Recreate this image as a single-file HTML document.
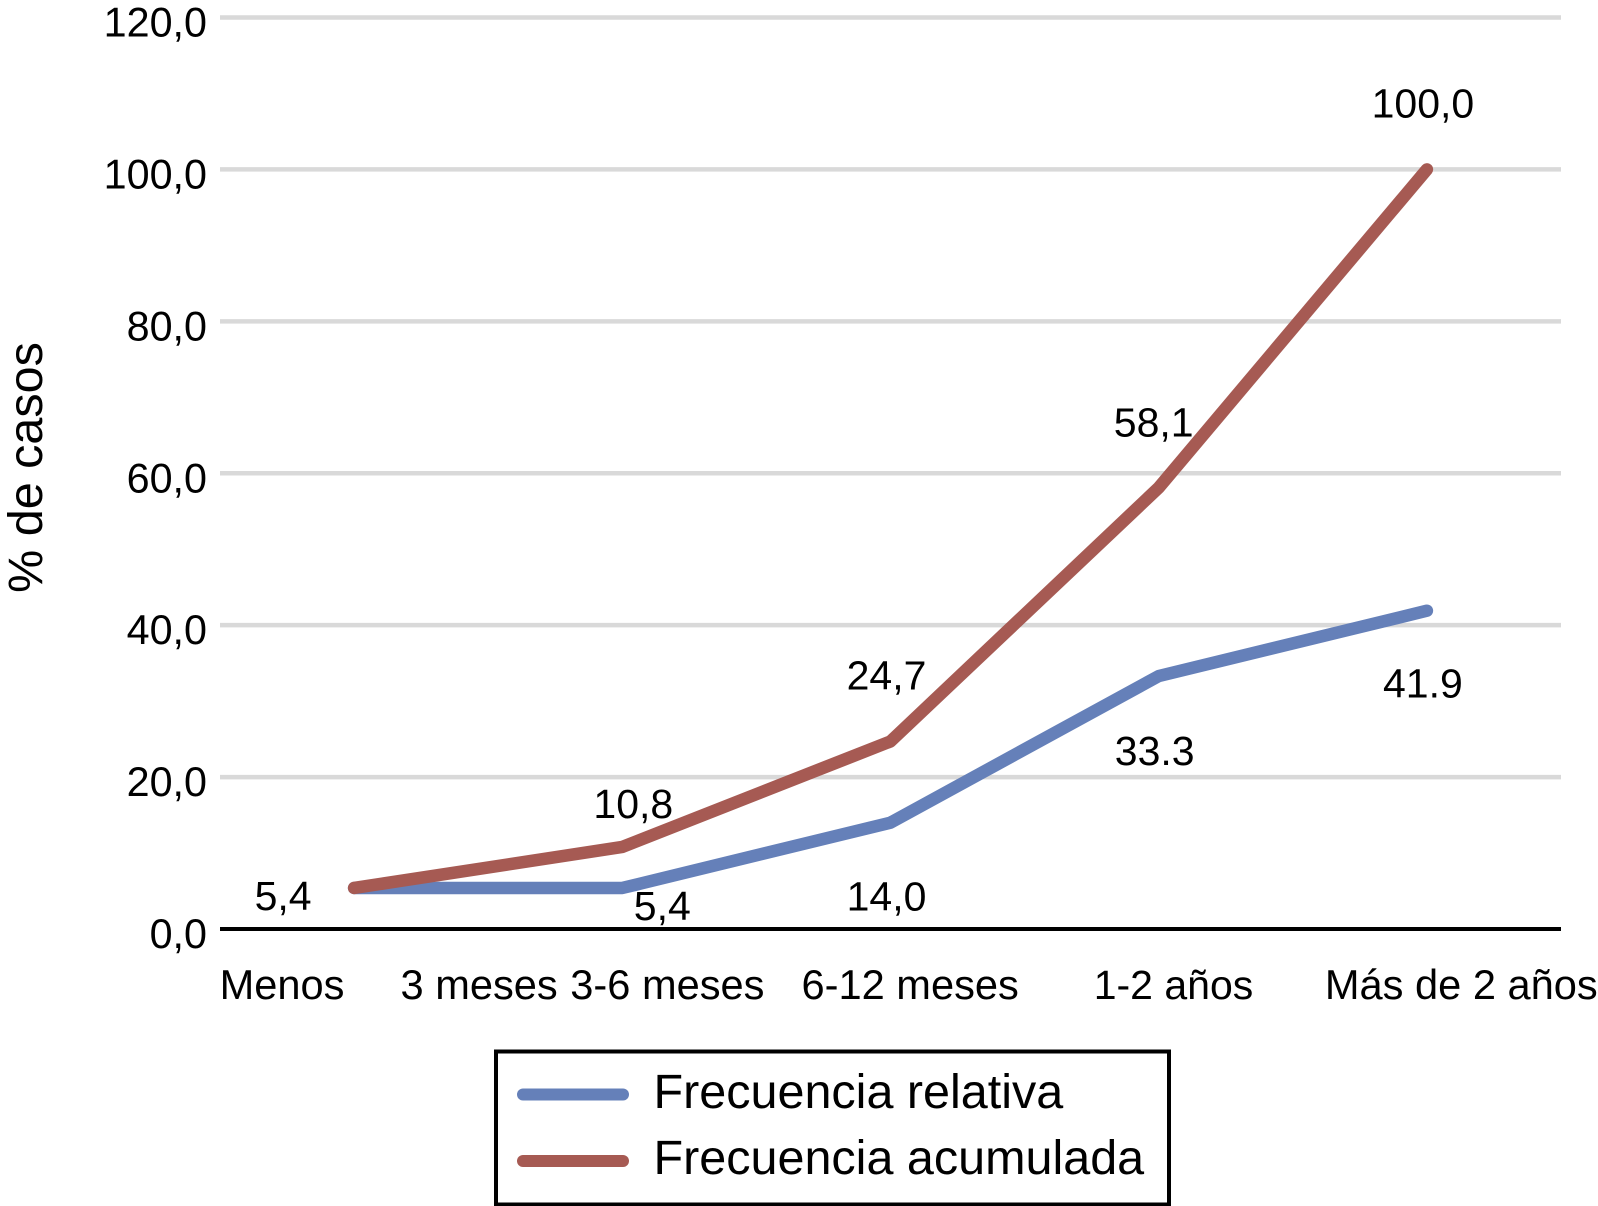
<!DOCTYPE html>
<html lang="es">
<head>
<meta charset="utf-8">
<title>% de casos</title>
<style>
html,body{margin:0;padding:0;background:#fff;}
svg{display:block;}
text{font-family:"Liberation Sans",Arial,sans-serif;fill:#000;}
</style>
</head>
<body>
<svg id="chart" xmlns="http://www.w3.org/2000/svg" width="1598" height="1206" viewBox="0 0 1598 1206"></svg>
<script>
const categories = ["Menos 3 meses", "3-6 meses", "6-12 meses", "1-2 años", "Más de 2 años"];
const yTicks = [0, 20, 40, 60, 80, 100, 120];
const yTickLabels = ["0,0", "20,0", "40,0", "60,0", "80,0", "100,0", "120,0"];
const relativa = [5.4, 5.4, 14.0, 33.3, 41.9];
const acumulada = [5.4, 10.8, 24.7, 58.1, 100.0];
const relativaLabels = ["5,4", "5,4", "14,0", "33.3", "41.9"];
const acumuladaLabels = ["", "10,8", "24,7", "58,1", "100,0"];
const seriesNames = ["Frecuencia relativa", "Frecuencia acumulada"];

const NS = "http://www.w3.org/2000/svg";
const svg = document.getElementById("chart");
const plotLeft = 220, plotRight = 1561, y0 = 929, yTop = 17.5;
const blue = "#6580b9", red = "#a65a53";

function xScale(i) { return plotLeft + (plotRight - plotLeft) * (i + 0.5) / categories.length; }
function yScale(v) { return y0 - (y0 - yTop) * v / 120; }
function add(tag, attrs, parent) {
  const el = document.createElementNS(NS, tag);
  for (const k in attrs) el.setAttribute(k, attrs[k]);
  (parent || svg).appendChild(el);
  return el;
}

// Gridlines and tick labels
yTicks.forEach(function (t, i) {
  const y = yScale(t);
  if (t !== 0) {
    const g = add("line", { x1: plotLeft, x2: plotRight, y1: y, y2: y, stroke: "#d9d9d9", "stroke-width": 4.5 });
    
    
  }
  const lab = add("text", { x: 207, y: y + 19, "text-anchor": "end", "font-size": 41.3 });
  lab.textContent = yTickLabels[i];
  
  
});

// X axis line
const axis = add("line", { x1: plotLeft, x2: plotRight, y1: y0, y2: y0, stroke: "#000", "stroke-width": 4 });



// Category labels: left edges follow the source's uneven label placement
const categoryOffsets = [-134.5, -52, -89, -65, -102];
categories.forEach(function (c, i) {
  const lab = add("text", { x: xScale(i) + categoryOffsets[i], y: 999, "font-size": i === 3 ? 41 : 41.6 });
  if (i === 0) {
    const parts = c.split(" ");
    const a = add("tspan", {}, lab);
    a.textContent = parts[0];
    const b = add("tspan", { x: 400.5 }, lab);
    b.textContent = parts.slice(1).join(" ");
  } else {
    lab.textContent = c;
  }
  
  
});

// Axis title
const title = add("text", { transform: "translate(42,467.5) rotate(-90)", "text-anchor": "middle", "font-size": 48.5 });
title.textContent = "% de casos";



// Series lines
function drawSeries(values, color, name) {
  const pts = values.map(function (v, i) { return xScale(i) + "," + yScale(v); }).join(" ");
  const line = add("polyline", { points: pts, fill: "none", stroke: color, "stroke-width": 12.5, "stroke-linecap": "round", "stroke-linejoin": "round" });
  
  
}
drawSeries(relativa, blue, "series-frecuencia-relativa");
drawSeries(acumulada, red, "series-frecuencia-acumulada");

// Data labels, offset from each point as in the source
const relOffsets = [[-71, 22], [40, 32], [-4, 88], [-4, 89], [-4, 87]];
const acuOffsets = [[0, 0], [11, -29], [-4, -52], [-5, -51], [-4, -52]];
function drawLabels(values, labels, offsets, name) {
  values.forEach(function (v, i) {
    if (!labels[i]) return;
    const lab = add("text", { x: xScale(i) + offsets[i][0], y: yScale(v) + offsets[i][1], "text-anchor": "middle", "font-size": 41 });
    lab.textContent = labels[i];
    
    
  });
}
drawLabels(relativa, relativaLabels, relOffsets, "data-label-relativa");
drawLabels(acumulada, acumuladaLabels, acuOffsets, "data-label-acumulada");

// Legend
const box = add("rect", { x: 496, y: 1051.5, width: 673, height: 153, fill: "none", stroke: "#000", "stroke-width": 4 });


[[1094.5, blue, 1108], [1161, red, 1174]].forEach(function (r, i) {
  const l = add("line", { x1: 523, x2: 623, y1: r[0], y2: r[0], stroke: r[1], "stroke-width": 12, "stroke-linecap": "round" });
  
  
  const t = add("text", { x: 653.5, y: r[2], "font-size": 48.5 });
  t.textContent = seriesNames[i];
  
  
});
</script>
</body>
</html>
